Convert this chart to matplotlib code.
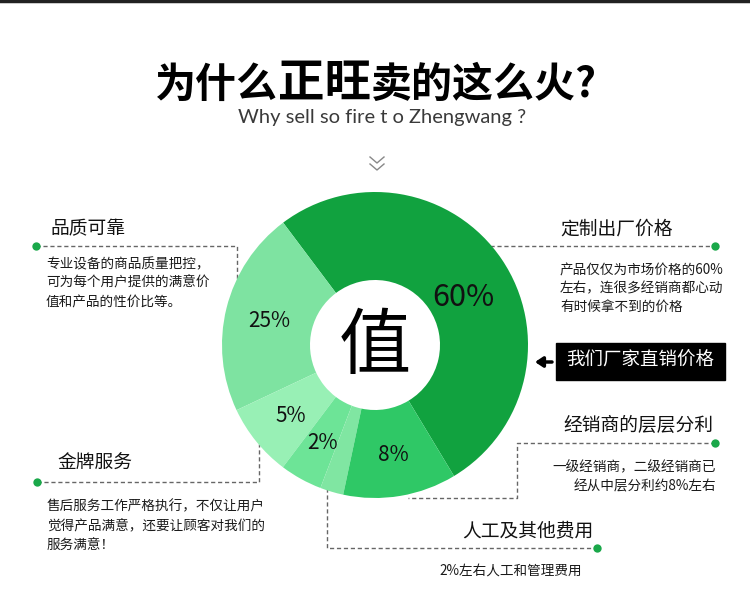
import matplotlib
matplotlib.use("Agg")
import matplotlib.pyplot as plt
from matplotlib.patches import Rectangle

plt.rcParams['font.family'] = ['Noto Sans CJK SC', 'DejaVu Sans']

# ---- data ----
pct_labels = ['60%', '25%', '5%', '2%', '', '8%']
# angular extent of each ring slice in the picture (degrees, counter-clockwise)
slice_deg = [185.8, 78.3, 27.8, 16.1, 8.9, 43.1]
slice_colors = ['#11a23f', '#7ee3a1', '#98f0b5', '#6de497', '#80e6a2', '#2fc866']

title_parts = ['为什么', '正旺', '卖的这么火?']
subtitle = 'Why sell so fire t o Zhengwang ?'
center_word = '值'

heads = ['品质可靠', '定制出厂价格', '经销商的层层分利', '人工及其他费用', '金牌服务']
bodies = [
    ['专业设备的商品质量把控，', '可为每个用户提供的满意价', '值和产品的性价比等。'],
    ['产品仅仅为市场价格的60%', '左右，连很多经销商都心动', '有时候拿不到的价格'],
    ['一级经销商，二级经销商已', '经从中层分利约8%左右'],
    ['2%左右人工和管理费用'],
    ['售后服务工作严格执行，不仅让用户', '觉得产品满意，还要让顾客对我们的', '服务满意！'],
]
banner = '我们厂家直销价格'

W, H = 750, 589


def Y(y):
    return H - y


fig = plt.figure(figsize=(7.5, 5.89), dpi=100)
ax = fig.add_axes([0, 0, 1, 1])

# connector lines first so the ring sits on top
dash = dict(color='#666666', lw=1, ls=(0, (3, 2)), zorder=1)
paths = [
    ([36, 237, 237], [246, 246, 280]),
    ([490, 715], [246, 246]),
    ([715, 517, 517, 408], [443, 443, 498, 498]),
    ([327, 327, 597], [488, 548, 548]),
    ([37, 259, 259], [482, 482, 444]),
]
for xs, ys in paths:
    ax.plot(xs, [Y(v) for v in ys], **dash)
for x, y in [(36, 246), (715, 246), (715, 443), (597, 548), (37, 482)]:
    ax.plot(x, Y(y), 'o', ms=6, color='#1aa84a', mec='none', zorder=3)

# ring
wedges, texts = ax.pie(slice_deg, colors=slice_colors, labels=pct_labels,
                       startangle=-58.9, counterclock=True,
                       center=(375, Y(345)), radius=153, labeldistance=0.71,
                       wedgeprops=dict(width=88, linewidth=0), frame=True)
for t, lab in zip(texts, pct_labels):
    t.set_ha('center')
    t.set_va('center_baseline')
    t.set_fontsize(15)
    t.set_color('#111111')
    if lab == '60%':
        t.set_fontsize(22)
        x, y = t.get_position()
        t.set_position((x - 2, y - 10))

ax.set_xlim(0, W)
ax.set_ylim(0, H)
ax.set_aspect('auto')
ax.axis('off')

ax.text(375, Y(347), center_word, fontsize=52, ha='center', va='center', color='black')

# top rule
ax.plot([0, W], [Y(1), Y(1)], color='#222222', lw=2.5, zorder=5)

# title with the bigger brand name
sizes = [29.5, 33.5, 29.5]
tts = [ax.text(0, Y(97), s, fontsize=fs, weight='heavy', va='baseline', color='black')
       for s, fs in zip(title_parts, sizes)]
fig.canvas.draw()
r = fig.canvas.get_renderer()
widths = [t.get_window_extent(r).width for t in tts]
x0 = 376 - sum(widths) / 2
for t, w in zip(tts, widths):
    t.set_x(x0)
    x0 += w

ax.text(382, Y(118), subtitle, family=['Lato', 'DejaVu Sans'], weight='normal',
        fontsize=14.5, ha='center', va='center', color='#3a3a3a')

# chevron
for y0 in (157, 164):
    ax.plot([370, 377, 384], [Y(y0), Y(y0 + 6), Y(y0)], color='#888888', lw=1)

# text blocks
hs = 13.5
bs = 9.8
bw = 'medium'
ax.text(50, Y(229), heads[0], fontsize=hs, va='center', ha='left', color='#111111')
for i, line in enumerate(bodies[0]):
    ax.text(46, Y(264 + 19 * i), line, fontsize=bs, weight=bw, va='center', ha='left', color='#1a1a1a')

ax.text(560, Y(229), heads[1], fontsize=hs, va='center', ha='left', color='#111111')
for i, line in enumerate(bodies[1]):
    ax.text(560, Y(270 + 18.5 * i), line, fontsize=bs, weight=bw, va='center', ha='left', color='#1a1a1a')

ax.text(713, Y(425), heads[2], fontsize=hs, va='center', ha='right', color='#111111')
for i, line in enumerate(bodies[2]):
    ax.text(716, Y(467 + 19 * i), line, fontsize=bs, weight=bw, va='center', ha='right', color='#1a1a1a')

ax.text(593, Y(531), heads[3], fontsize=hs, va='center', ha='right', color='#111111')
ax.text(511, Y(571), bodies[3][0], fontsize=bs, weight=bw, va='center', ha='center', color='#1a1a1a')

ax.text(57, Y(463), heads[4], fontsize=hs, va='center', ha='left', color='#111111')
for i, line in enumerate(bodies[4]):
    ax.text(47, Y(506 + 20 * i), line, fontsize=bs, weight=bw, va='center', ha='left', color='#1a1a1a')

# banner with arrow
ax.add_patch(Rectangle((556, Y(380)), 169, 37, color='black', zorder=2))
ax.text(640, Y(361), banner, fontsize=13.3, color='white', ha='center', va='center', zorder=3)
ax.annotate('', xy=(535, Y(362)), xytext=(552, Y(362)),
            arrowprops=dict(arrowstyle='-|>,head_length=0.45,head_width=0.3',
                            lw=2.5, color='black', shrinkA=0, shrinkB=0))

fig.savefig('out.png', dpi=100)
